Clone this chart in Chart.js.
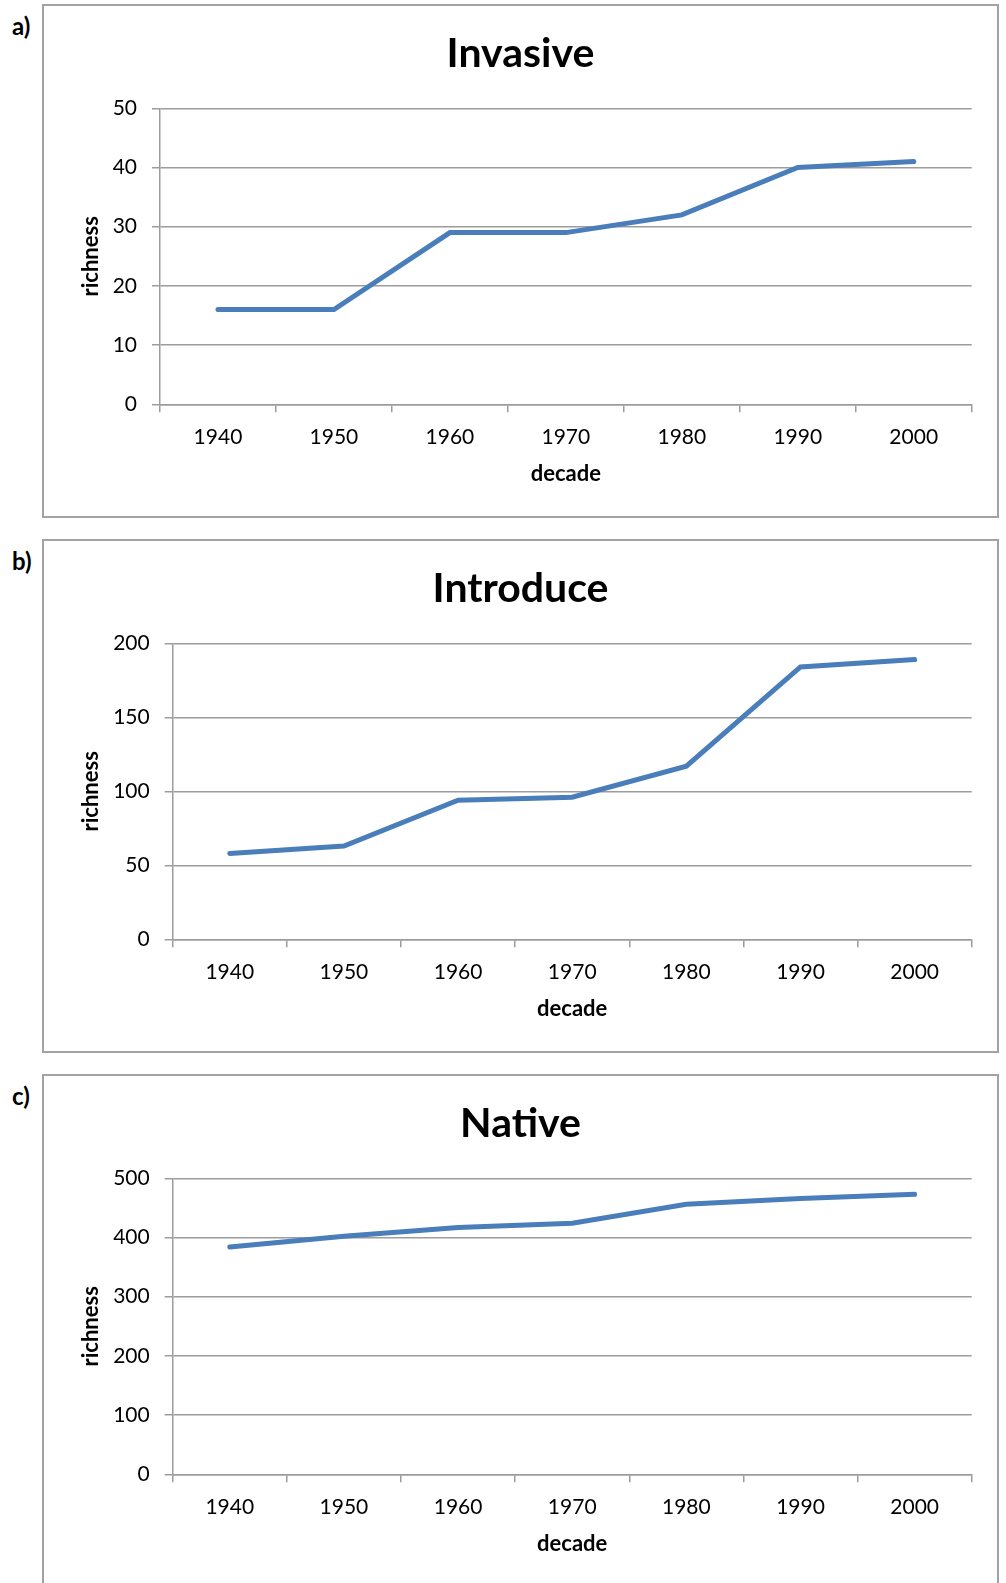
<!DOCTYPE html>
<html>
<head>
<meta charset="utf-8">
<script src="https://cdn.jsdelivr.net/npm/chart.js@4/dist/chart.umd.min.js"></script>
<style>
  html, body { margin: 0; padding: 0; background: #fff; width: 1006px; height: 1583px; overflow: hidden; }
  .panel { position: absolute; left: 42px; width: 957px; height: 514px; border: 2px solid #a3a3a3; box-sizing: border-box; background: #fff; }
  .panel canvas { display: block; }
  .letter { position: absolute; left: 12px; font-family: Lato, sans-serif; font-weight: bold; font-size: 24px; line-height: 1; color: #000; }
</style>
</head>
<body>
<script>
// Species richness per decade for the three groups
const decades = ['1940', '1950', '1960', '1970', '1980', '1990', '2000'];
const invasiveRichness = [16, 16, 29, 29, 32, 40, 41];
const introducedRichness = [58, 63, 94, 96, 117, 184, 189];
const nativeRichness = [384, 402, 417, 424, 456, 466, 473];

const panelTitles = ['Invasive', 'Introduce', 'Native'];
const panelLetters = ['a)', 'b)', 'c)'];
const panelSeries = [invasiveRichness, introducedRichness, nativeRichness];
const yAxisMax = [50, 200, 500];
const yAxisStep = [10, 50, 100];

const xAxisTitle = 'decade';
const yAxisTitle = 'richness';

// layout of the three framed panels
const panelTop = [4, 539, 1074];
const sidePad = 25.3;
const yAxisWidth = [116 - sidePad, 128.7 - sidePad, 128.7 - sidePad];
const canvasW = 953, canvasH = 510;
const gridGray = '#9c9c9c';
const lineBlue = '#4a7ebb';

function buildPanel(i) {
  const letter = document.createElement('div');
  letter.className = 'letter';
  letter.style.top = (panelTop[i] + 10) + 'px';
  letter.textContent = panelLetters[i];
  document.body.appendChild(letter);

  const box = document.createElement('div');
  box.className = 'panel';
  box.style.top = panelTop[i] + 'px';
  const canvas = document.createElement('canvas');
  canvas.width = canvasW;
  canvas.height = canvasH;
  box.appendChild(canvas);
  document.body.appendChild(box);

  new Chart(canvas, {
    type: 'line',
    data: {
      labels: decades,
      datasets: [{
        data: panelSeries[i],
        borderColor: lineBlue,
        borderWidth: 5,
        pointRadius: 0,
        tension: 0,
        borderCapStyle: 'round',
        fill: false
      }]
    },
    options: {
      responsive: false,
      animation: false,
      devicePixelRatio: 1,
      layout: { padding: { left: sidePad, right: sidePad, top: 0, bottom: 0 } },
      plugins: {
        legend: { display: false },
        tooltip: { enabled: false },
        title: {
          display: true,
          text: panelTitles[i],
          color: '#000',
          font: { family: 'Lato', size: 41, weight: 'bold', lineHeight: 1 },
          padding: { top: 27, bottom: 34.3 }
        }
      },
      scales: {
        x: {
          type: 'category',
          offset: true,
          afterFit: (s) => { s.height = 111.7; },
          grid: {
            offset: true,
            drawOnChartArea: false,
            drawTicks: true,
            tickLength: 8,
            color: gridGray,
            lineWidth: 1.5
          },
          border: { display: true, color: gridGray, width: 1.5 },
          ticks: { color: '#000', font: { family: 'Lato', size: 21 }, padding: 12, maxRotation: 0 },
          title: {
            display: true,
            text: xAxisTitle,
            color: '#000',
            font: { family: 'Lato', size: 22, weight: 'bold', lineHeight: 1.2 },
            padding: { top: 0, bottom: 29.1 }
          }
        },
        y: {
          min: 0,
          max: yAxisMax[i],
          afterFit: (s) => { s.width = yAxisWidth[i]; },
          grid: {
            drawTicks: true,
            tickLength: 8,
            color: gridGray,
            lineWidth: 1.5
          },
          border: { display: true, color: gridGray, width: 1.5 },
          ticks: { stepSize: yAxisStep[i], color: '#000', font: { family: 'Lato', size: 21 }, padding: 15 },
          title: {
            display: true,
            text: yAxisTitle,
            color: '#000',
            font: { family: 'Lato', size: 22, weight: 'bold', lineHeight: 1.2 },
            padding: { top: 8.5, bottom: 0 }
          }
        }
      }
    }
  });
}

Chart.defaults.font.family = 'Lato';
Promise.all([
  document.fonts.load('21px Lato'),
  document.fonts.load('bold 41px Lato')
]).catch(() => {}).then(() => {
  for (let i = 0; i < 3; i++) buildPanel(i);
});
</script>
</body>
</html>
